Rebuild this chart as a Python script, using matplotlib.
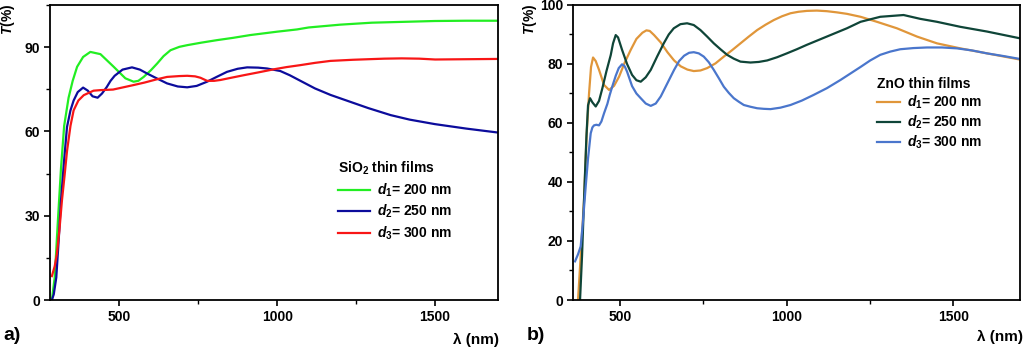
import matplotlib
matplotlib.use('Agg')
import matplotlib.pyplot as plt
from matplotlib.ticker import MultipleLocator

plt.rcParams['font.family'] = ['Liberation Sans', 'DejaVu Sans']
plt.rcParams['font.weight'] = 'bold'
plt.rcParams['mathtext.fontset'] = 'custom'
plt.rcParams['mathtext.rm'] = 'Liberation Sans:bold'
plt.rcParams['mathtext.it'] = 'Liberation Sans:bold:italic'
plt.rcParams['mathtext.bf'] = 'Liberation Sans:bold'

# SiO2 films
sio2_x1 = [286, 295, 305, 315, 325, 339, 352, 366, 385, 408, 440, 482, 519, 545, 560, 577, 600,
           620, 640, 662, 690, 715, 760, 810, 860, 915, 1000, 1063, 1100, 1200, 1300, 1400, 1500,
           1600, 1700]
sio2_y1 = [0, 8, 28, 47, 62, 72, 78, 83, 86.5, 88.3, 87.5, 83, 78.9, 77.7, 78, 79.4, 81.8,
           84.2, 86.8, 88.9, 90.1, 90.7, 91.6, 92.5, 93.3, 94.3, 95.5, 96.3, 97, 98, 98.7, 99,
           99.3, 99.4, 99.4]

sio2_x2 = [286, 292, 300, 308, 315, 325, 334, 345, 355, 368, 385, 400, 415, 431, 445, 460, 472,
           485, 510, 540, 565, 588, 620, 651, 685, 715, 745, 778, 810, 841, 875, 905, 940, 968,
           1010, 1040, 1074, 1120, 1169, 1220, 1289, 1360, 1420, 1500, 1600, 1700]
sio2_y2 = [0, 2, 8, 22, 35.5, 50, 61.6, 67.5, 71, 74, 75.6, 74.5, 72.5, 72, 73.5, 75.8, 78,
           79.8, 82, 82.8, 82, 80.6, 78.8, 77.1, 76, 75.7, 76.2, 77.7, 79.5, 81.2, 82.3, 82.8,
           82.7, 82.4, 81.5, 80, 78, 75.3, 73, 71, 68.3, 65.8, 64.2, 62.6, 61, 59.6]

sio2_x3 = [286, 295, 302, 310, 318, 326, 334, 345, 355, 370, 387, 418, 440, 480, 545, 580, 617,
           651, 690, 715, 740, 757, 778, 800, 820, 850, 894, 940, 989, 1030, 1074, 1120, 1169,
           1240, 1289, 1340, 1395, 1450, 1501, 1600, 1700]
sio2_y3 = [8.5, 12, 16.5, 25, 35.5, 44, 53, 62, 67.5, 71, 72.9, 74.5, 74.7, 74.9, 76.5, 77.4,
           78.5, 79.4, 79.7, 79.8, 79.6, 79.1, 78, 78, 78.3, 79, 80, 81, 82.1, 82.9, 83.6, 84.4,
           85.1, 85.5, 85.7, 85.9, 86, 85.9, 85.6, 85.7, 85.8]

# ZnO films
zno_x1 = [375, 383, 393, 401, 408, 414, 420, 428, 438, 453, 468, 483, 498, 515, 533, 550, 568,
          580, 590, 603, 623, 643, 663, 683, 703, 722, 742, 762, 787, 812, 837, 862, 887, 912,
          937, 962, 987, 1012, 1036, 1061, 1091, 1121, 1151, 1181, 1222, 1271, 1331, 1391, 1451,
          1521, 1601, 1700]
zno_y1 = [0, 15, 34, 56.5, 70, 79, 82.2, 81, 78, 72.9, 71.2, 72.6, 75.7, 80.5, 84.8, 88.5,
          90.6, 91.4, 91.2, 89.8, 87.3, 84, 81.2, 79.2, 78.1, 77.6, 77.8, 78.6, 80.2, 82.5, 84.7,
          87, 89.3, 91.5, 93.3, 94.9, 96.2, 97.2, 97.7, 98, 98.1, 97.9, 97.5, 97, 96, 94.3, 92.1,
          89.3, 87, 85.3, 83.6, 81.5]

zno_x2 = [381, 387, 393, 400, 405, 411, 418, 428, 438, 448, 460, 473, 480, 488, 495, 507, 522,
          537, 550, 563, 578, 593, 612, 632, 647, 662, 682, 702, 722, 742, 762, 782, 802, 822,
          842, 862, 892, 917, 942, 972, 1001, 1031, 1061, 1091, 1121, 1151, 1181, 1222, 1281,
          1351, 1401, 1451, 1521, 1601, 1700]
zno_y2 = [0, 15, 34, 55, 66, 68.4, 67, 65.6, 67.5, 71.8, 77.5, 83, 87, 89.8, 89, 84.8, 80,
          76.3, 74.5, 74, 75.5, 78, 82.5, 87, 90, 92.1, 93.5, 93.8, 93.2, 91.5, 89.3, 87, 85,
          83.1, 81.8, 80.8, 80.5, 80.7, 81.2, 82.3, 83.6, 85, 86.5, 87.9, 89.3, 90.7, 92.1, 94.3,
          96, 96.6, 95.3, 94.3, 92.6, 91, 88.7]

zno_x3 = [366, 375, 383, 390, 398, 405, 413, 418, 423, 430, 438, 445, 453, 463, 470, 478, 488,
          497, 507, 515, 522, 537, 550, 563, 578, 593, 608, 623, 643, 663, 678, 693, 708, 722,
          737, 752, 767, 782, 797, 812, 827, 842, 857, 872, 892, 912, 932, 952, 982, 1012, 1046,
          1081, 1121, 1162, 1192, 1222, 1251, 1281, 1311, 1341, 1381, 1421, 1466, 1511, 1556,
          1601, 1650, 1700]
zno_y3 = [13.1, 15.5, 18.2, 27, 38.5, 48, 56.5, 58.5, 59.2, 59.4, 59.2, 60.5, 63.3, 66.5, 69.5,
          72.5, 76, 78.6, 79.9, 79.2, 77.4, 72.5, 70, 68.4, 66.6, 65.8, 66.6, 69, 73.5, 78, 81,
          82.8, 83.8, 84, 83.6, 82.5, 80.6, 78, 75.2, 72.3, 70.2, 68.4, 67.2, 66.1, 65.5, 65,
          64.8, 64.7, 65.2, 66.1, 67.6, 69.5, 71.8, 74.6, 76.8, 79, 81.2, 83.1, 84.2, 85, 85.4,
          85.6, 85.6, 85.3, 84.6, 83.6, 82.7, 81.7]

labels = [r'$d_{1}$= 200 nm', r'$d_{2}$= 250 nm', r'$d_{3}$= 300 nm']
sio2_colors = ['#22ee22', '#0c0c9c', '#f81616']
zno_colors = ['#e0963a', '#0f4538', '#4a76cc']

fig = plt.figure(figsize=(10.24, 3.49), dpi=100)
ax1 = fig.add_axes([0.0488, 0.1404, 0.4375, 0.8453])
ax2 = fig.add_axes([0.5596, 0.1404, 0.4365, 0.8453])

for x, y, c, lab in zip([sio2_x1, sio2_x2, sio2_x3], [sio2_y1, sio2_y2, sio2_y3], sio2_colors, labels):
    ax1.plot(x, y, color=c, lw=1.6, label=lab, solid_joinstyle='round')
for x, y, c, lab in zip([zno_x1, zno_x2, zno_x3], [zno_y1, zno_y2, zno_y3], zno_colors, labels):
    ax2.plot(x, y, color=c, lw=1.6, label=lab, solid_joinstyle='round')

ax1.set_xlim(280, 1700)
ax1.set_ylim(0, 105)
ax1.xaxis.set_major_locator(MultipleLocator(500))
ax1.xaxis.set_minor_locator(MultipleLocator(250))
ax1.yaxis.set_major_locator(MultipleLocator(30))
ax1.yaxis.set_minor_locator(MultipleLocator(15))

ax2.set_xlim(360, 1700)
ax2.set_ylim(0, 100)
ax2.xaxis.set_major_locator(MultipleLocator(500))
ax2.xaxis.set_minor_locator(MultipleLocator(250))
ax2.yaxis.set_major_locator(MultipleLocator(20))
ax2.yaxis.set_minor_locator(MultipleLocator(10))

for ax in (ax1, ax2):
    for s in ax.spines.values():
        s.set_linewidth(1.3)
    ax.tick_params(which='major', direction='out', length=4, width=1.2, labelsize=10, pad=3)
    ax.tick_params(which='minor', direction='out', length=3, width=1.0)
    for t in ax.get_xticklabels() + ax.get_yticklabels():
        t.set_fontweight('bold')

leg1 = ax1.legend(title=r'SiO$_{2}$ thin films', loc='upper left', bbox_to_anchor=(0.643, 0.475),
                  frameon=False, fontsize=10, title_fontsize=10, handlelength=2.3,
                  handletextpad=0.5, labelspacing=0.3, borderpad=0, borderaxespad=0,
                  alignment='left')
leg2 = ax2.legend(title='ZnO thin films', loc='upper left', bbox_to_anchor=(0.68, 0.755),
                  frameon=False, fontsize=10, title_fontsize=10, handlelength=1.65,
                  handletextpad=0.5, labelspacing=0.18, borderpad=0, borderaxespad=0,
                  alignment='left')
for leg in (leg1, leg2):
    leg.get_title().set_fontweight('bold')
    for t in leg.get_texts():
        t.set_fontweight('bold')

# panel captions and axis titles
fig.text(0.003, 0.04, 'a)', fontsize=14, fontweight='bold', va='center')
fig.text(0.514, 0.04, 'b)', fontsize=14, fontweight='bold', va='center')
fig.text(0.487, 0.025, 'λ (nm)', fontsize=11, fontweight='bold', ha='right', va='center')
fig.text(0.999, 0.035, 'λ (nm)', fontsize=11, fontweight='bold', ha='right', va='center')
fig.text(0.008, 0.99, '$T$(%)', fontsize=10, fontweight='bold', rotation=90, ha='center', va='top')
fig.text(0.518, 0.99, '$T$(%)', fontsize=10, fontweight='bold', rotation=90, ha='center', va='top')

fig.savefig('out.png', dpi=100)
